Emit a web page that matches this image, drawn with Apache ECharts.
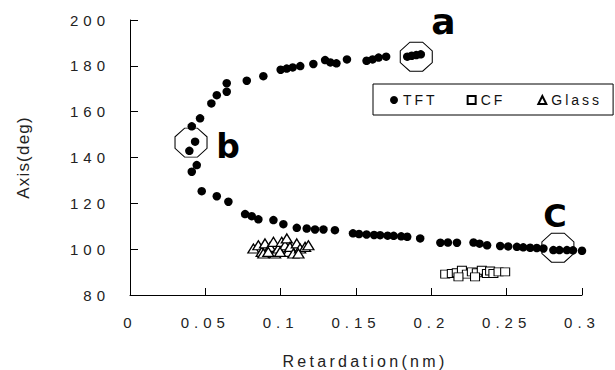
<!DOCTYPE html>
<html>
<head>
<meta charset="utf-8">
<script src="https://cdn.jsdelivr.net/npm/echarts@6/dist/echarts.min.js"></script>
<style>
    html, body { margin: 0; padding: 0; background: #fff; }
    #chart { width: 615px; height: 370px; }
    /* spaced-out lettering like the original figure */
    #chart text[style*="15px"] { letter-spacing: 5px; }
    #chart text[style*="16px"] { letter-spacing: 3.3px; }
    #chart text[style*="14px"] { letter-spacing: 3px; }
    #chart text[style*="17px"] { letter-spacing: 1.2px; }
</style>
</head>
<body>
<div id="chart"></div>
<script>
// 数据
var seriesNames = ['TFT', 'CF', 'Glass'];

var tftPoints = [
    // upper branch
    [0.0394, 142.9], [0.0432, 146.9], [0.041, 153.6], [0.0465, 157.1], [0.054, 163.6],
    [0.0576, 167.2], [0.0642, 168.7], [0.0642, 172.4], [0.0775, 173.5], [0.0885, 175.5],
    [0.100, 178.3], [0.104, 178.8], [0.108, 179.3], [0.113, 179.9], [0.1217, 180.8],
    [0.1295, 182.5], [0.133, 181.5], [0.137, 181.1], [0.144, 182.8], [0.157, 182.2],
    [0.161, 182.8], [0.165, 183.6], [0.170, 184.0], [0.184, 184.0], [0.187, 184.4],
    [0.190, 184.7], [0.193, 185.0],
    // lower branch
    [0.0443, 136.7], [0.041, 133.8], [0.0476, 125.3], [0.0576, 123.1], [0.0653, 120.7],
    [0.0764, 115.3], [0.0808, 114.4], [0.0852, 113.0], [0.0952, 112.7], [0.1018, 110.9],
    [0.1107, 109.3], [0.1173, 109.0], [0.1228, 108.6], [0.1284, 108.6], [0.136, 108.3],
    [0.148, 106.9], [0.152, 106.6], [0.157, 106.4], [0.162, 106.2], [0.166, 106.1],
    [0.171, 105.9], [0.175, 105.8], [0.180, 105.6], [0.184, 105.4], [0.1926, 104.7],
    [0.206, 102.8], [0.211, 102.9], [0.217, 102.8], [0.228, 102.9], [0.232, 102.4],
    [0.237, 101.7], [0.2457, 101.4], [0.251, 101.2], [0.2568, 101.0], [0.261, 100.8],
    [0.2656, 100.6], [0.270, 100.5], [0.2744, 100.3], [0.281, 99.6], [0.285, 99.6],
    [0.290, 99.6], [0.294, 99.5], [0.300, 99.3]
];

var cfPoints = [
    [0.2092, 89.1], [0.2136, 89.4], [0.2169, 89.7], [0.2203, 90.8], [0.2236, 89.1],
    [0.2269, 90.1], [0.2302, 89.7], [0.2335, 90.8], [0.2369, 89.4], [0.239, 90.5],
    [0.2412, 89.4], [0.2446, 90.1], [0.249, 90.1], [0.229, 87.9], [0.218, 87.9]
];

var glassPoints = [
    [0.0819, 100.3], [0.0852, 101.7], [0.0874, 98.8], [0.0896, 102.5], [0.093, 101.0],
    [0.0952, 103.2], [0.0963, 98.1], [0.0985, 100.3], [0.1007, 103.2], [0.1029, 101.7],
    [0.1041, 104.7], [0.1051, 98.8], [0.1062, 101.0], [0.1084, 98.1], [0.1107, 102.5],
    [0.1129, 100.3], [0.1162, 101.0], [0.1184, 101.7], [0.1118, 98.1], [0.0885, 98.1],
    [0.0996, 98.8], [0.0918, 98.8]
];

// circled regions a, b, C
var ringPoints = [[0.190, 184.0], [0.0405, 146.5], [0.284, 100.65]];
var ringLabels = ['a', 'b', 'C'];

var chart = echarts.init(document.getElementById('chart'), null, {renderer: 'svg'});
drawChart();

function drawChart() {
    var octagon = 'path://M30,0 L70,0 L100,30 L100,70 L70,100 L30,100 L0,70 L0,30 Z';
    var labelStyles = [
        {offset: [27, -35], fontSize: 36},
        {offset: [37, 4], fontSize: 33},
        {offset: [-3, -32], fontSize: 32}
    ];
    let option = {
        backgroundColor: '#fff',
        animation: false,
        grid: {
            left: 130,
            right: 33,
            top: 20,
            bottom: 75,
            outerBoundsMode: 'none'
        },
        legend: {
            left: 373,
            top: 84,
            orient: 'horizontal',
            padding: [9, 26, 8, 17],
            itemGap: 38,
            itemWidth: 8,
            itemHeight: 8,
            borderColor: '#000',
            borderWidth: 1,
            backgroundColor: '#fff',
            textStyle: {
                fontFamily: 'Liberation Sans',
                fontSize: 14,
                color: '#111'
            },
            data: [
                {name: seriesNames[0], icon: 'circle'},
                {name: seriesNames[1], icon: 'rect'},
                {name: seriesNames[2], icon: 'triangle'}
            ]
        },
        xAxis: {
            type: 'value',
            min: 0,
            max: 0.3,
            interval: 0.05,
            name: 'Retardation(nm)',
            nameLocation: 'middle',
            nameGap: 58,
            nameTextStyle: {
                fontFamily: 'Liberation Sans',
                fontSize: 16,
                color: '#222',
                padding: [0, 0, 0, 18]
            },
            axisLine: {lineStyle: {color: '#000', width: 1}},
            axisTick: {inside: true, length: 7, lineStyle: {color: '#000'}},
            axisLabel: {
                margin: 20,
                fontFamily: 'Liberation Sans',
                fontSize: 15,
                color: '#222'
            },
            splitLine: {show: false}
        },
        yAxis: {
            type: 'value',
            min: 80,
            max: 200,
            interval: 20,
            name: 'Axis(deg)',
            nameLocation: 'middle',
            nameRotate: 90,
            nameGap: 98,
            nameTextStyle: {
                fontFamily: 'Liberation Sans',
                fontSize: 17,
                color: '#222'
            },
            axisLine: {show: true, lineStyle: {color: '#000', width: 1}},
            axisTick: {show: true, inside: true, length: 8, lineStyle: {color: '#000'}},
            axisLabel: {
                margin: 20,
                fontFamily: 'Liberation Sans',
                fontSize: 15,
                color: '#222'
            },
            splitLine: {show: false}
        },
        series: [
            {
                name: seriesNames[0],
                type: 'scatter',
                symbol: 'circle',
                symbolSize: 8.5,
                itemStyle: {color: '#000', opacity: 1},
                data: tftPoints
            },
            {
                name: seriesNames[1],
                type: 'scatter',
                symbol: 'rect',
                symbolSize: [9, 8],
                itemStyle: {color: '#fff', borderColor: '#000', borderWidth: 1, opacity: 1},
                data: cfPoints
            },
            {
                name: seriesNames[2],
                type: 'scatter',
                symbol: 'triangle',
                symbolSize: [11, 9],
                itemStyle: {color: '#fff', borderColor: '#000', borderWidth: 1.3, opacity: 1},
                data: glassPoints
            },
            {
                name: 'rings',
                type: 'scatter',
                symbol: octagon,
                symbolSize: [32, 29],
                symbolKeepAspect: false,
                silent: true,
                z: 5,
                itemStyle: {color: 'rgba(0,0,0,0)', borderColor: '#000', borderWidth: 1, opacity: 1},
                data: ringPoints.map(function (p, i) {
                    return {
                        value: p,
                        label: {
                            show: true,
                            position: 'inside',
                            formatter: ringLabels[i],
                            offset: labelStyles[i].offset,
                            fontSize: labelStyles[i].fontSize,
                            fontFamily: 'DejaVu Sans',
                            fontWeight: 'bold',
                            color: '#000'
                        }
                    };
                })
            }
        ]
    };
    chart.setOption(option);
}
</script>
</body>
</html>
